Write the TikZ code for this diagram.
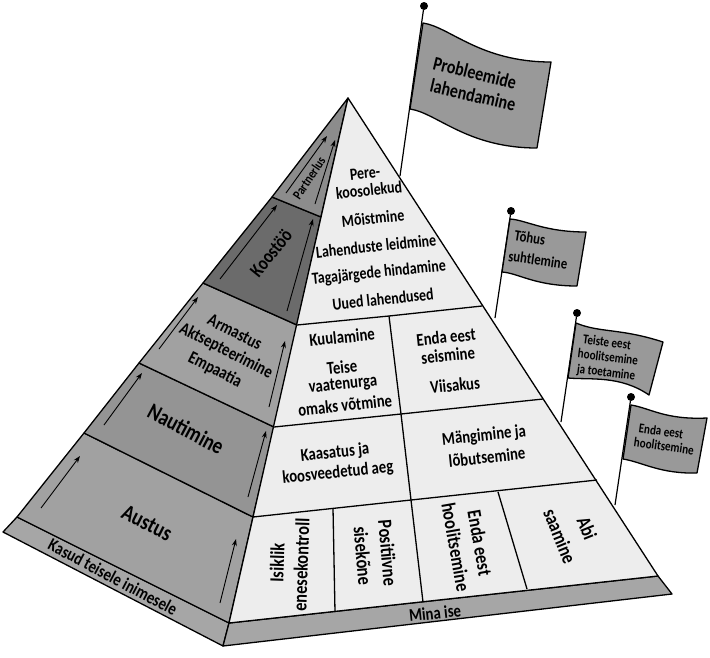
\documentclass[tikz,border=0pt]{standalone}
\usepackage{fontspec}
\setmainfont{Carlito}[FakeStretch=0.82]
\usetikzlibrary{arrows.meta}
\definecolor{facelight}{gray}{0.93}
\definecolor{basegray}{gray}{0.65}
\definecolor{sidea}{gray}{0.63}
\definecolor{sideb}{gray}{0.58}
\definecolor{sidec}{gray}{0.42}
\definecolor{sided}{gray}{0.55}
\definecolor{flagc}{gray}{0.60}
\tikzset{
  edge/.style={draw=black,line width=1.3pt,line join=round},
  flagshape/.style={edge,fill=flagc},
  pole/.style={draw=black,line width=1.2pt},
  ball/.style={circle,fill=black,inner sep=0pt,minimum size=8pt},
  upa/.style={draw=black,line width=0.9pt,-{Stealth[length=7pt,width=5pt]}},
  lab/.style={inner sep=0pt,font=\bfseries\fontsize{18}{18}\selectfont},
  slab/.style={inner sep=0pt,font=\bfseries\fontsize{17}{17}\selectfont},
  flab/.style={inner sep=0pt,font=\bfseries\fontsize{15.5}{15.5}\selectfont},
  tall/.style={inner sep=0pt,font=\bfseries\fontsize{20}{20}\selectfont},
  big/.style={inner sep=0pt,font=\bfseries\fontsize{23}{23}\selectfont},
  mid/.style={inner sep=0pt,font=\bfseries\fontsize{19.5}{19.5}\selectfont},
  sml/.style={inner sep=0pt,font=\bfseries\fontsize{13.5}{13.5}\selectfont},
}
\begin{document}
\begin{tikzpicture}[x=1pt,y=-1pt]
\useasboundingbox (0,0) rectangle (710,657);
% poles and balls
\node[ball] (b1) at (424,6) {};
\node[ball] (b2) at (511,211) {};
\node[ball] (b3) at (577,313) {};
\node[ball] (b4) at (631,397) {};
\coordinate (p1) at (400,176);
\coordinate (p2) at (495,318);
\coordinate (p3) at (561,422);
\coordinate (p4) at (615,505);
\draw[pole] (b1) -- (p1);
\draw[pole] (b2) -- (p2);
\draw[pole] (b3) -- (p3);
\draw[pole] (b4) -- (p4);
% flags
\draw[flagshape] (423,23) .. controls (450,27) and (480,62) .. (551,62) -- (537,148) .. controls (467,148) and (437,113) .. (410,109) -- cycle;
\draw[flagshape] (510,219) .. controls (526,220) and (544,232) .. (586,232) -- (577,286) .. controls (535,286) and (518,273) .. (502,272) -- cycle;
\draw[flagshape] (576,323) .. controls (600,333) and (620,328) .. (663,342) -- (649,395) .. controls (620,375) and (590,380) .. (568,378) -- cycle;
\draw[flagshape] (631,405) .. controls (650,408) and (665,420) .. (707,418) -- (697,473) .. controls (660,474) and (642,462) .. (623,459) -- cycle;
% pyramid corners
\coordinate (apex) at (348,98);
\coordinate (ol) at (3,532);
\coordinate (of) at (223,646);
\coordinate (or) at (672,594);
\coordinate (il) at (17,517);
\coordinate (if) at (229,623);
\coordinate (ir) at (658,576);
\coordinate (l1) at (84,433);
\coordinate (l2) at (139,363);
\coordinate (l3) at (203,283);
\coordinate (l4) at (272,197);
\coordinate (f1) at (253,517);
\coordinate (f2) at (274,427);
\coordinate (f3) at (297,325);
\coordinate (f4) at (321,217);
\coordinate (r1) at (597,480);
\coordinate (r2) at (543,399);
\coordinate (r3) at (482,306);
\coordinate (m1) at (411,500);
\coordinate (m2) at (401,414);
\coordinate (m3) at (389,316);
\coordinate (bb1) at (335,612);
\coordinate (bb2) at (423,602);
\coordinate (bb3) at (527,589);
\coordinate (t1) at (333,508);
\coordinate (t3) at (498,492);
% base
\draw[edge,fill=basegray] (ol) -- (of) -- (if) -- (il) -- cycle;
\draw[edge,fill=basegray] (of) -- (or) -- (ir) -- (if) -- cycle;
% left face
\draw[edge,fill=sidea] (il) -- (if) -- (f1) -- (l1) -- cycle;
\draw[edge,fill=sideb] (l1) -- (f1) -- (f2) -- (l2) -- cycle;
\draw[edge,fill=sidea] (l2) -- (f2) -- (f3) -- (l3) -- cycle;
\draw[edge,fill=sidec] (l3) -- (f3) -- (f4) -- (l4) -- cycle;
\draw[edge,fill=sided] (l4) -- (f4) -- (apex) -- cycle;
% right face
\draw[edge,fill=facelight] (if) -- (ir) -- (apex) -- cycle;
\draw[edge] (f1) -- (m1) -- (r1);
\draw[edge] (f2) -- (m2) -- (r2);
\draw[edge] (f3) -- (m3) -- (r3);
\draw[edge] (m3) -- (m2) -- (m1) -- (bb2);
\draw[edge] (t1) -- (bb1);
\draw[edge] (t3) -- (bb3);
% arrows
\coordinate (a1s) at (41,508); \coordinate (a1e) at (80,456);
\coordinate (a2s) at (220,603); \coordinate (a2e) at (236,539);
\coordinate (a3s) at (104,425); \coordinate (a3e) at (142,373);
\coordinate (a4s) at (248,497); \coordinate (a4e) at (266,431);
\coordinate (a5s) at (159,349); \coordinate (a5e) at (198,297);
\coordinate (a6s) at (269,407); \coordinate (a6e) at (285,341);
\coordinate (a7s) at (220,279); \coordinate (a7e) at (277,205);
\coordinate (a8s) at (287,311); \coordinate (a8e) at (313,219);
\coordinate (a9s) at (286,193); \coordinate (a9e) at (327,136);
\coordinate (a10s) at (315,204); \coordinate (a10e) at (335,140);
\foreach \k in {1,...,10} \draw[upa] (a\k s) -- (a\k e);
% left face labels
\node[lab,rotate=-28] (kasud) at (113,577) {Kasud teisele inimesele};
\node[big,rotate=-27] (austus) at (147,523) {Austus};
\node[big,rotate=-28] (naut) at (186,429) {Nautimine};
\node[lab,rotate=-27] (arm) at (235,332) {Armastus};
\node[lab,rotate=-27] (akt) at (226,351) {Aktsepteerimine};
\node[lab,rotate=-27] (emp) at (215,370) {Empaatia};
\node[mid,rotate=51] (koos) at (271,253) {Koostöö};
\node[sml,rotate=56] (part) at (309,178) {Partnerlus};
% right face labels
\tikzset{rr/.style={lab,rotate=6},ss/.style={slab,rotate=6}}
\node[ss] (pere) at (365,173) {Pere-};
\node[ss] (kool) at (369,190) {koosolekud};
\node[ss] (moist) at (373,218) {Mõistmine};
\node[ss] (lah) at (376,246) {Lahenduste leidmine};
\node[ss] (tag) at (379,273) {Tagajärgede hindamine};
\node[ss] (uued) at (383,299) {Uued lahendused};
\node[rr] (kuul) at (342,337) {Kuulamine};
\node[rr] (teise) at (342,367) {Teise};
\node[rr] (vaat) at (343,385) {vaatenurga};
\node[rr] (omaks) at (345,405) {omaks võtmine};
\node[rr] (enda) at (446,337) {Enda eest};
\node[rr] (seis) at (448,355) {seismine};
\node[rr] (viis) at (455,385) {Viisakus};
\node[rr] (kaas) at (335,453) {Kaasatus ja};
\node[rr] (koov) at (338,473) {koosveedetud aeg};
\node[rr] (mang) at (484,436) {Mängimine ja};
\node[rr] (lob) at (487,457) {lõbutsemine};
\node[tall,rotate=88] (isik) at (277,563) {Isiklik};
\node[tall,rotate=88] (enes) at (301,565) {enesekontroll};
\node[tall,rotate=-85] (pos) at (388,553) {Positiivne};
\node[tall,rotate=-85] (sise) at (363,556) {sisekõne};
\node[tall,rotate=-80] (enda2) at (480,543) {Enda eest};
\node[tall,rotate=-80] (hool) at (456,547) {hoolitsemine};
\node[tall,rotate=-68] (abi) at (587,528) {Abi};
\node[tall,rotate=-68] (saam) at (560,536) {saamine};
\node[lab,rotate=6] (mina) at (435,613) {Mina ise};
% flag labels
\node[mid,rotate=-14] (prob) at (475,73) {Probleemide};
\node[mid,rotate=-13] (lahd) at (473,95) {lahendamine};
\node[flab,rotate=-9] (toh) at (530,238) {Tõhus};
\node[flab,rotate=-8] (suht) at (538,260) {suhtlemine};
\node[sml,rotate=-7] (teist) at (607,342) {Teiste eest};
\node[sml,rotate=-7] (hool3) at (608,357) {hoolitsemine};
\node[sml,rotate=-7] (toet) at (606,373) {ja toetamine};
\node[sml,rotate=-8] (enda4) at (661,431) {Enda eest};
\node[sml,rotate=-8] (hool4) at (664,446) {hoolitsemine};
\end{tikzpicture}
\end{document}
